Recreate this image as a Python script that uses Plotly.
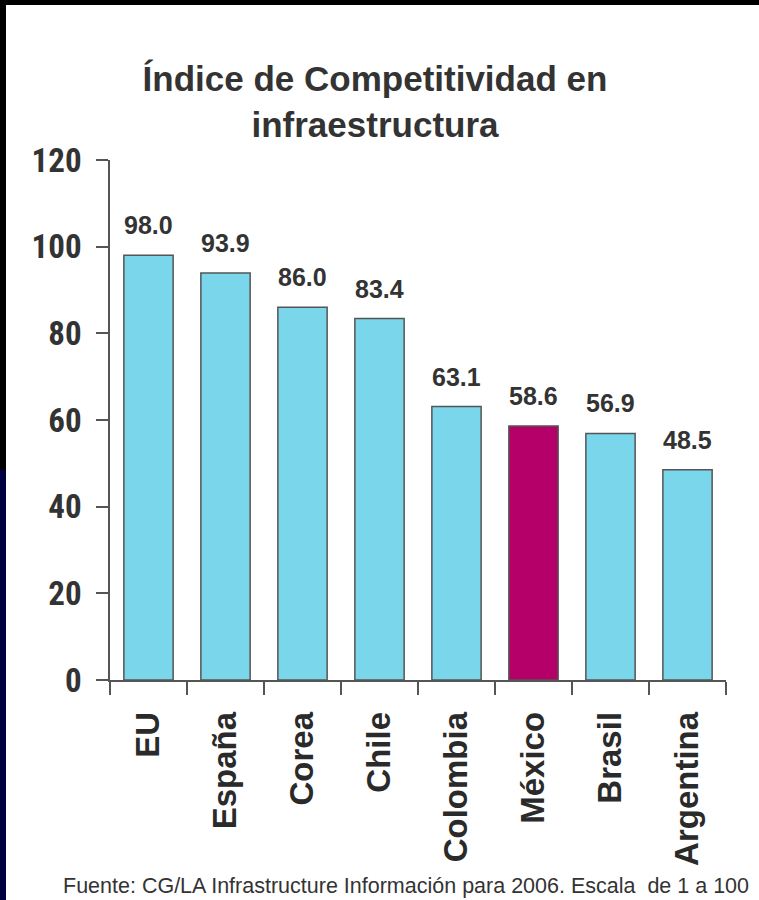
import plotly.graph_objects as go

countries = ["EU", "España", "Corea", "Chile", "Colombia", "México", "Brasil", "Argentina"]
values = [98.0, 93.9, 86.0, 83.4, 63.1, 58.6, 56.9, 48.5]
labels = ["98.0", "93.9", "86.0", "83.4", "63.1", "58.6", "56.9", "48.5"]
highlight = "México"
yticks = [0, 20, 40, 60, 80, 100, 120]

W, H = 759, 900
L, R, T, B = 110, 33, 160, 220
pw, ph = W - L - R, H - T - B

ARIAL = "Liberation Sans, Arial, sans-serif"
COND = "Roboto Condensed, Liberation Sans, sans-serif"

colors = ["#B5006A" if c == highlight else "#7AD6EA" for c in countries]

fig = go.Figure()
fig.add_trace(go.Bar(
    x=countries, y=values,
    marker=dict(color=colors, line=dict(color="#555555", width=1.5)),
    hoverinfo="x+y",
))

def px2x(p):
    return (p - L) / pw

def px2y(p):
    return (H - B - p) / ph

shapes = [
    dict(type="rect", xref="paper", yref="paper", x0=px2x(0), x1=px2x(W), y0=px2y(0), y1=px2y(5),
         fillcolor="#000000", line=dict(width=0), layer="above"),
    dict(type="rect", xref="paper", yref="paper", x0=px2x(0), x1=px2x(6), y0=px2y(0), y1=px2y(470),
         fillcolor="#000000", line=dict(width=0), layer="above"),
    dict(type="rect", xref="paper", yref="paper", x0=px2x(0), x1=px2x(6), y0=px2y(470), y1=px2y(H),
         fillcolor="#000040", line=dict(width=0), layer="above"),
]

annotations = [dict(
    x=c, y=v, xref="x", yref="y", text="<b>%s</b>" % t, showarrow=False,
    yanchor="bottom", yshift=14,
    font=dict(family=ARIAL, size=25, color="#333333"),
) for c, v, t in zip(countries, values, labels)]

annotations.append(dict(
    text="Fuente: CG/LA Infrastructure Información para 2006. Escala  de 1 a 100",
    xref="paper", yref="paper", x=px2x(61), y=px2y(886), xanchor="left", yanchor="middle",
    showarrow=False, font=dict(family=ARIAL, size=21.5, color="#333333"),
))

fig.update_layout(
    width=W, height=H,
    margin=dict(l=L, r=R, t=T, b=B, pad=0),
    paper_bgcolor="white", plot_bgcolor="white",
    showlegend=False,
    bargap=0.36,
    shapes=shapes,
    annotations=annotations,
    title=dict(
        text="<b>Índice de Competitividad en<br>infraestructura</b>",
        x=375 / W, xanchor="center", y=1 - 91 / H, yanchor="top",
        font=dict(family=ARIAL, size=35, color="#333333"),
    ),
    font=dict(family=ARIAL, color="#333333"),
    xaxis=dict(
        type="category", tickangle=-90, tickson="boundaries",
        tickvals=countries, ticktext=["<b>%s</b>" % c for c in countries],
        ticks="outside", ticklen=13, tickcolor="#555555", tickwidth=1.5,
        showline=True, linecolor="#555555", linewidth=1.5,
        showgrid=False,
        tickfont=dict(family=ARIAL, size=33, color="#2a2a2a"),
        ticklabelstandoff=17,
    ),
    yaxis=dict(
        range=[0, 120], tickvals=yticks,
        ticktext=["<b>%d</b>" % v for v in yticks],
        ticks="outside", ticklen=12, tickcolor="#555555", tickwidth=1.5,
        showline=True, linecolor="#555555", linewidth=1.5,
        showgrid=False, zeroline=False,
        tickfont=dict(family=COND, size=33, color="#333333"),
        ticklabelstandoff=8,
    ),
)

fig.write_html("out.html", config={"displayModeBar": False},
               post_script="document.body.style.margin='0';")
